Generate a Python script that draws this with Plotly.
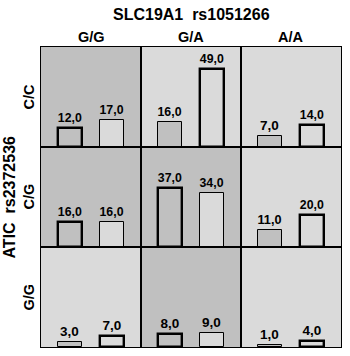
import plotly.graph_objects as go
from plotly.subplots import make_subplots

col_labels = ["G/G", "G/A", "A/A"]          # SLC19A1 rs1051266
row_labels = ["C/C", "C/G", "G/G"]          # ATIC rs2372536
series_a = [[12, 16, 7], [16, 37, 11], [3, 8, 1]]     # left bar in each cell
series_b = [[17, 49, 14], [16, 34, 20], [7, 9, 4]]    # right bar in each cell
shaded = [[1, 0, 0], [1, 1, 0], [0, 1, 0]]            # darker cell background

DARK = "#C0C0C0"
LIGHT = "#DADADA"
FONT = "Liberation Sans, Arial, sans-serif"

fig = make_subplots(rows=3, cols=3, horizontal_spacing=0, vertical_spacing=0)


def fmt(v):
    return f"{v:.1f}".replace(".", ",")


for r in range(3):
    for c in range(3):
        dark = shaded[r][c] == 1
        vals = [series_a[r][c], series_b[r][c]]
        lw = [2.4, 1] if dark else [1, 2.4]
        fig.add_trace(
            go.Bar(
                x=[0.29, 0.71],
                y=vals,
                width=0.245,
                marker=dict(color=[DARK, LIGHT], line=dict(color="black", width=lw)),
                text=[fmt(v) for v in vals],
                textposition="outside",
                textfont=dict(family=FONT, size=13.5, color="black", weight="bold"),
                cliponaxis=False,
                showlegend=False,
                hoverinfo="skip",
            ),
            row=r + 1,
            col=c + 1,
        )
        idx = r * 3 + c + 1
        sfx = "" if idx == 1 else str(idx)
        fig.add_shape(
            type="rect",
            xref=f"x{sfx} domain",
            yref=f"y{sfx} domain",
            x0=0, x1=1, y0=0, y1=1,
            fillcolor=DARK if dark else LIGHT,
            line=dict(width=0),
            layer="below",
        )

fig.update_xaxes(range=[0, 1], showticklabels=False, ticks="", showgrid=False,
                 zeroline=False, showline=True, linecolor="black", linewidth=1, mirror=True)
fig.update_yaxes(range=[0, 63], showticklabels=False, ticks="", showgrid=False,
                 zeroline=False, showline=True, linecolor="black", linewidth=1, mirror=True)

L, R, T, B = 41, 9, 47, 9
W, H = 350, 356
PH = H - T - B
PW = W - L - R


def py(p):
    return 1 + (T - p) / PH


def px(p):
    return (p - L) / PW


ann = []
ann.append(dict(text="SLC19A1  rs1051266", x=0.5, y=py(15), xref="paper", yref="paper",
                showarrow=False, xanchor="center", yanchor="middle",
                font=dict(family=FONT, size=16, color="black", weight="bold")))
for c, lab in enumerate(col_labels):
    ann.append(dict(text=lab, x=(c + 0.5) / 3, y=py(36.5), xref="paper", yref="paper",
                    showarrow=False, xanchor="center", yanchor="middle",
                    font=dict(family=FONT, size=14.5, color="black", weight="bold")))
for r, lab in enumerate(row_labels):
    ann.append(dict(text=lab, x=px(28.5), y=1 - (r + 0.5) / 3, xref="paper", yref="paper",
                    showarrow=False, xanchor="center", yanchor="middle", textangle=-90,
                    font=dict(family=FONT, size=14.5, color="black", weight="bold")))
ann.append(dict(text="ATIC  rs2372536", x=px(8.5), y=0.5, xref="paper", yref="paper",
                showarrow=False, xanchor="center", yanchor="middle", textangle=-90,
                font=dict(family=FONT, size=16, color="black", weight="bold")))

fig.update_layout(
    width=W, height=H,
    margin=dict(l=L, r=R, t=T, b=B, pad=0),
    paper_bgcolor="white",
    plot_bgcolor="white",
    bargap=0,
    annotations=ann,
)

fig.write_html("out.html")
